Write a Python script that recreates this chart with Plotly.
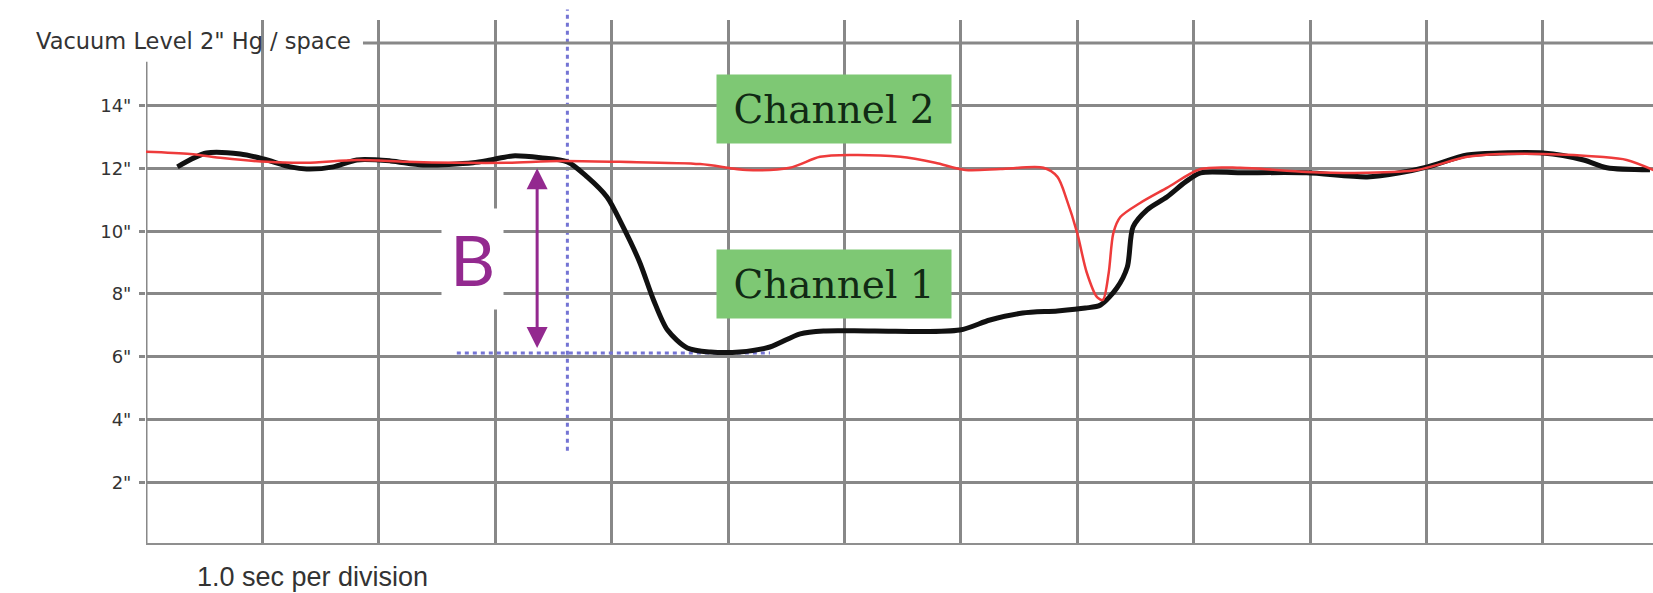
import plotly.graph_objects as go

# Time in seconds (1 division = 1 s), vacuum in inches of Hg
ch1_t = [0.27, 0.52, 0.81, 1.01, 1.24, 1.38, 1.61, 1.81, 2.10, 2.38, 2.81, 2.96, 3.15,
         3.39, 3.62, 3.79, 3.96, 4.09, 4.24, 4.36, 4.48, 4.65, 4.85, 5.10, 5.36, 5.62,
         5.82, 6.25, 6.99, 7.25, 7.53, 7.83, 8.07, 8.20, 8.34, 8.43, 8.48, 8.60, 8.77,
         8.93, 9.06, 9.40, 9.97, 10.49, 10.77, 11.01, 11.35, 11.63, 12.00, 12.35, 12.55, 12.92]
ch1_v = [12.05, 12.49, 12.46, 12.30, 12.05, 11.98, 12.05, 12.27, 12.24, 12.11, 12.18, 12.27, 12.40,
         12.34, 12.21, 11.73, 11.09, 10.20, 9.02, 7.81, 6.85, 6.28, 6.15, 6.15, 6.31, 6.73,
         6.82, 6.82, 6.85, 7.17, 7.39, 7.46, 7.55, 7.65, 8.19, 8.86, 10.14, 10.68, 11.09,
         11.57, 11.86, 11.86, 11.86, 11.73, 11.86, 12.05, 12.43, 12.49, 12.49, 12.27, 12.02, 11.96]

ch2_t = [0.0, 0.38, 0.66, 1.04, 1.38, 1.81, 2.24, 2.67, 3.10, 3.56, 4.07, 4.76, 5.16,
         5.53, 5.79, 6.05, 6.48, 6.78, 7.04, 7.34, 7.71, 7.83, 7.91, 8.00, 8.08, 8.17,
         8.22, 8.27, 8.31, 8.37, 8.54, 8.77, 9.06, 9.40, 9.97, 10.49, 10.92, 11.35, 11.63,
         12.00, 12.49, 12.72, 12.95]
ch2_v = [12.53, 12.46, 12.33, 12.21, 12.18, 12.27, 12.21, 12.18, 12.18, 12.24, 12.21, 12.14, 11.95,
         12.02, 12.37, 12.43, 12.37, 12.18, 11.95, 11.98, 12.02, 11.73, 11.00, 9.94, 8.70, 7.90,
         7.81, 8.67, 9.94, 10.45, 10.90, 11.38, 11.98, 12.02, 11.89, 11.86, 11.95, 12.37, 12.46,
         12.46, 12.37, 12.27, 11.95]

y_ticks = [2, 4, 6, 8, 10, 12, 14]
y_labels = ['2"', '4"', '6"', '8"', '10"', '12"', '14"']
x_divisions = list(range(1, 13))

# Measurement "B": drop of channel 1 from its baseline to its minimum
b_time = 3.62
b_top = 12.05
b_bottom = 6.28
b_floor = 6.12

GRID = "#888888"
X_MAX = 12.946
Y_MAX = 16.73
MARK = "#7474d4"
PURPLE = "#93298f"
GREEN = "rgb(126,200,116)"

fig = go.Figure()
fig.add_trace(go.Scatter(x=ch1_t, y=ch1_v, mode="lines", name="Channel 1",
                         line=dict(color="#111111", width=5, shape="spline", smoothing=0.8)))
fig.add_trace(go.Scatter(x=ch2_t, y=ch2_v, mode="lines", name="Channel 2",
                         line=dict(color="#ee3b3b", width=2.5, shape="spline", smoothing=0.8)))

shapes = [
    # left axis, stopping under the title
    dict(type="line", xref="x", yref="y", x0=0, x1=0, y0=0, y1=15.4,
         line=dict(color=GRID, width=3), layer="between"),
    # bottom axis
    dict(type="line", xref="x", yref="y", x0=-0.04, x1=X_MAX, y0=0, y1=0,
         line=dict(color="#8f8f8f", width=4), layer="between"),
    # top rule at 16", starting after the title
    dict(type="line", xref="x", yref="y", x0=1.864, x1=X_MAX, y0=16, y1=16,
         line=dict(color=GRID, width=3), layer="between"),
    # marker lines for measurement B
    dict(type="line", xref="x", yref="paper", x0=b_time, x1=b_time, y0=3.0 / Y_MAX, y1=1.02,
         line=dict(color=MARK, width=3, dash="4px,4px"), layer="between"),
    dict(type="line", xref="x", yref="y", x0=2.67, x1=5.36, y0=b_floor, y1=b_floor,
         line=dict(color=MARK, width=3, dash="4px,4px"), layer="between"),
]

annotations = [
    dict(text='Vacuum Level 2" Hg / space', x=1.778, y=16.05, xref="x", yref="y",
         xanchor="right", yanchor="middle", showarrow=False,
         font=dict(family="DejaVu Sans", size=22.5, color="#333333")),
    dict(text="1.0 sec per division", x=0.42, y=-0.061, xref="x", yref="paper",
         xanchor="left", yanchor="middle", showarrow=False,
         font=dict(family="Liberation Sans", size=27, color="#333333")),
    dict(text="Channel 2", x=5.911, y=13.90, xref="x", yref="y", showarrow=False,
         width=234, height=68, borderpad=0, bgcolor=GREEN,
         font=dict(family="DejaVu Serif", size=39, color="#112a14")),
    dict(text="Channel 1", x=5.911, y=8.32, xref="x", yref="y", showarrow=False,
         width=234, height=68, borderpad=0, bgcolor=GREEN,
         font=dict(family="DejaVu Serif", size=39, color="#112a14")),
    dict(text="B", x=2.809, y=9.12, xref="x", yref="y", showarrow=False,
         bgcolor="white", borderpad=8,
         font=dict(family="Lato", size=70, color=PURPLE)),
    dict(text="", x=b_time - 0.26, y=b_bottom, ax=b_time - 0.26, ay=b_top,
         xref="x", yref="y", axref="x", ayref="y", showarrow=True,
         arrowhead=2, arrowside="end+start", arrowsize=1.4, arrowwidth=3,
         arrowcolor=PURPLE, standoff=0, startstandoff=0),
]

fig.update_layout(
    width=1653, height=593,
    margin=dict(l=146, r=0, t=20, b=48),
    paper_bgcolor="white", plot_bgcolor="white",
    showlegend=False,
    shapes=shapes, annotations=annotations,
    xaxis=dict(range=[0, X_MAX], tickvals=x_divisions, showticklabels=False,
               showgrid=True, gridcolor=GRID, gridwidth=3, zeroline=False,
               showline=False, ticks=""),
    yaxis=dict(range=[0, Y_MAX], tickvals=y_ticks, ticktext=y_labels,
               showgrid=True, gridcolor=GRID, gridwidth=3, zeroline=False,
               showline=False, ticks="outside", ticklen=6, tickwidth=3, tickcolor=GRID,
               ticklabelstandoff=4,
               tickfont=dict(family="DejaVu Sans", size=18, color="#333333")),
)

fig.write_html("out.html")
